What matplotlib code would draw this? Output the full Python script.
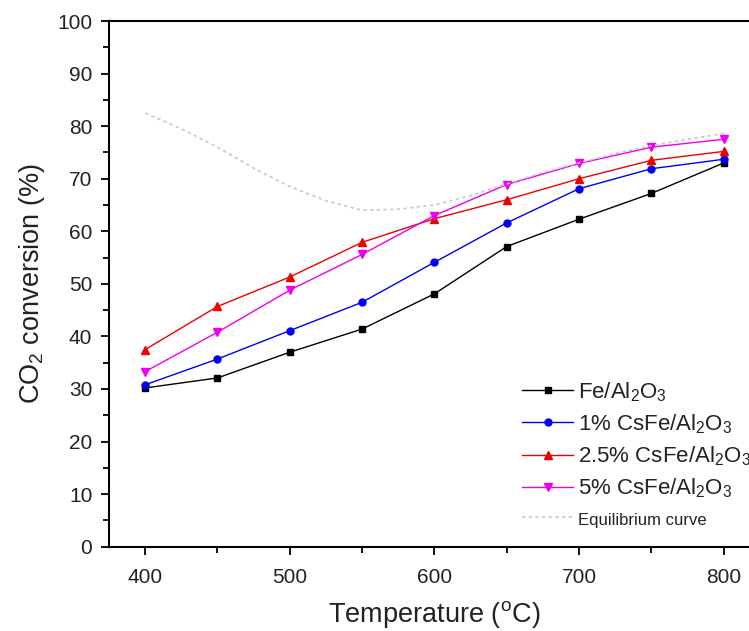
import numpy as np
import matplotlib.pyplot as plt
from matplotlib.ticker import MultipleLocator

plt.rcParams['font.family'] = ['Liberation Sans', 'DejaVu Sans']
plt.rcParams['mathtext.fontset'] = 'custom'
plt.rcParams['mathtext.rm'] = 'Liberation Sans'

# ----- data -----
temps = [400, 450, 500, 550, 600, 650, 700, 750, 800]
fe = [30.2, 32.1, 37.0, 41.4, 48.1, 57.1, 62.3, 67.2, 73.0]
cs1 = [30.8, 35.7, 41.1, 46.5, 54.1, 61.6, 68.1, 71.9, 73.7]
cs25 = [37.5, 45.7, 51.3, 57.9, 62.4, 66.0, 70.0, 73.5, 75.2]
cs5 = [33.3, 40.8, 48.8, 55.6, 63.0, 68.9, 72.9, 76.0, 77.5]

eq_t = [400, 425, 450, 475, 500, 525, 550, 575, 600, 625, 650, 675, 700, 725, 750, 775, 800]
eq_v = [82.5, 79.5, 76.0, 72.0, 68.5, 65.8, 64.0, 64.2, 65.0, 66.8, 69.0, 71.2, 73.0, 74.8, 76.3, 77.5, 78.6]

labels = [r'Fe/Al$_2$O$_3$', r'1% CsFe/Al$_2$O$_3$', r'2.5% CsFe/Al$_2$O$_3$',
          r'5% CsFe/Al$_2$O$_3$', 'Equilibrium curve']

fig = plt.figure(figsize=(7.49, 6.31), dpi=100)
# axes runs past the right edge of the figure, like the cropped original
ax = fig.add_axes([0.1455, 0.1336, 0.869, 0.8331])

ax.plot(temps, fe, color='black', marker='s', ms=5, lw=1, label=labels[0])
ax.plot(temps, cs1, color='#0000ee', marker='o', ms=5, lw=1, label=labels[1])
ax.plot(temps, cs25, color='#ee0000', marker='^', ms=6, lw=1, label=labels[2])
ax.plot(temps, cs5, color='#ee00ee', marker='v', ms=6, lw=1, label=labels[3])
ax.plot(eq_t, eq_v, color='#c8c8c8', ls=(0, (2, 2)), lw=1.2, label=labels[4])

ax.set_xlim(375, 825)
ax.set_ylim(0, 100)
ax.xaxis.set_major_locator(MultipleLocator(100))
ax.xaxis.set_minor_locator(MultipleLocator(50))
ax.yaxis.set_major_locator(MultipleLocator(10))
ax.yaxis.set_minor_locator(MultipleLocator(5))
ax.tick_params(which='major', direction='out', length=6, width=1.3, labelsize=15,
               labelcolor='#222222', pad=6)
ax.tick_params(axis='x', which='major', pad=9)
ax.tick_params(which='minor', direction='out', length=4, width=1.3)
for s in ax.spines.values():
    s.set_linewidth(1.5)

ax.set_xlabel(r'Temperature ($^{\mathrm{o}}$C)', fontsize=19.5, labelpad=9, color='#222222')
ax.set_ylabel(r'CO$_2$ conversion (%)', fontsize=19.5, labelpad=7, color='#222222')

leg = ax.legend(loc='upper left', bbox_to_anchor=(0.685, 0.412), bbox_transform=fig.transFigure,
                frameon=False, fontsize=16, handlelength=2.3, handletextpad=0.2,
                labelspacing=0.39, borderaxespad=0)
leg.get_texts()[4].set_fontsize(12)
for t in leg.get_texts():
    t.set_color('#222222')

fig.savefig('out.png', dpi=100)
